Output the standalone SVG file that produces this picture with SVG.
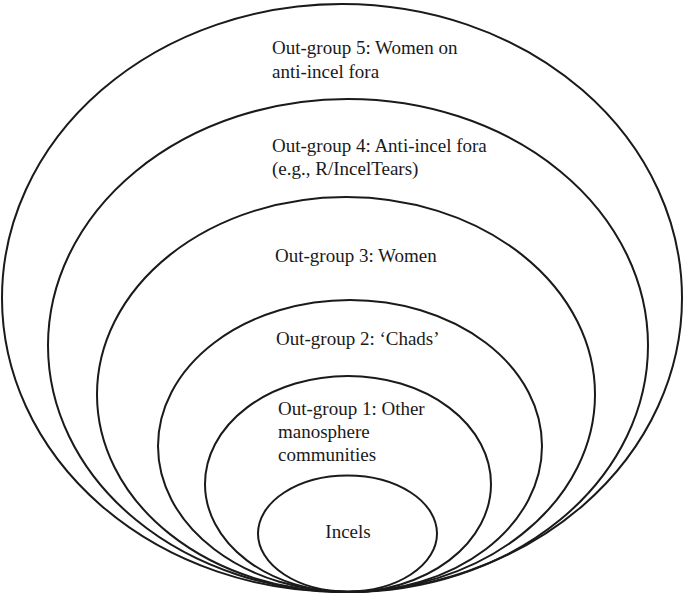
<svg xmlns="http://www.w3.org/2000/svg" width="685" height="595" viewBox="0 0 685 595">
<style>
.ring{fill:none;stroke:#1a1a1a;stroke-width:2}
.lbl{font-size:19px;fill:#1a1a1a}
</style>
<rect width="685" height="595" fill="#fff"/>
<g font-family="'Liberation Serif', 'Times New Roman', 'DejaVu Serif', serif">
<g id="outgroup5">
<ellipse class="ring" cx="342" cy="298" rx="340" ry="294"/>
<text class="lbl" x="272" y="54">Out-group 5: Women on</text>
<text class="lbl" x="272" y="78">anti-incel fora</text>
</g>
<g id="outgroup4">
<ellipse class="ring" cx="348" cy="345.5" rx="300" ry="246.5"/>
<text class="lbl" x="272" y="152">Out-group 4: Anti-incel fora</text>
<text class="lbl" x="272" y="175">(e.g., R/IncelTears)</text>
</g>
<g id="outgroup3">
<ellipse class="ring" cx="346" cy="394.5" rx="249" ry="197.5"/>
<text class="lbl" x="275" y="262">Out-group 3: Women</text>
</g>
<g id="outgroup2">
<ellipse class="ring" cx="350" cy="446" rx="192" ry="146"/>
<text class="lbl" x="276" y="345">Out-group 2: ‘Chads’</text>
</g>
<g id="outgroup1">
<ellipse class="ring" cx="348" cy="484" rx="143" ry="108"/>
<text class="lbl" x="278" y="415">Out-group 1: Other</text>
<text class="lbl" x="278" y="438">manosphere</text>
<text class="lbl" x="278" y="461">communities</text>
</g>
<g id="incels">
<ellipse class="ring" cx="347.5" cy="533.5" rx="89.5" ry="58"/>
<text class="lbl" x="348" y="538" text-anchor="middle">Incels</text>
</g>
</g>
<g id="connectors"/>
</svg>
